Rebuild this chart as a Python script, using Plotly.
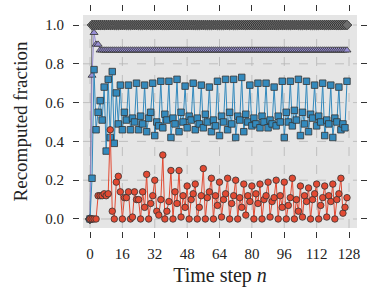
import plotly.graph_objects as go

steps = list(range(128))

gray_vals = [0.0] + [1.0] * 127

purple_vals = [0.0, 0.74, 0.96, 0.90, 0.90] + [0.87] * 123

blue_vals = [
    0.00, 0.21, 0.77, 0.46, 0.55, 0.61, 0.51, 0.68, 0.35, 0.72, 0.42, 0.76,
    0.39, 0.65, 0.49, 0.69, 0.46, 0.55, 0.51, 0.69, 0.46, 0.52, 0.50, 0.70,
    0.46, 0.53, 0.49, 0.69, 0.45, 0.52, 0.55, 0.70, 0.43, 0.50, 0.48, 0.71,
    0.47, 0.54, 0.51, 0.71, 0.42, 0.52, 0.49, 0.72, 0.45, 0.55, 0.50, 0.685,
    0.47, 0.53, 0.51, 0.70, 0.46, 0.52, 0.49, 0.69, 0.47, 0.54, 0.50, 0.68,
    0.45, 0.51, 0.48, 0.71, 0.43, 0.53, 0.50, 0.72, 0.46, 0.55, 0.49, 0.72,
    0.42, 0.53, 0.51, 0.73, 0.45, 0.54, 0.50, 0.69, 0.48, 0.52, 0.49, 0.70,
    0.47, 0.53, 0.50, 0.70, 0.47, 0.51, 0.49, 0.68, 0.48, 0.53, 0.50, 0.71,
    0.42, 0.55, 0.50, 0.71, 0.48, 0.56, 0.51, 0.72, 0.43, 0.55, 0.49, 0.71,
    0.45, 0.54, 0.52, 0.69, 0.48, 0.53, 0.50, 0.70, 0.43, 0.51, 0.49, 0.69,
    0.42, 0.52, 0.50, 0.68, 0.46, 0.49, 0.47, 0.71,
]

red_vals = [
    0.00, 0.00, 0.00, 0.00, 0.12, 0.12, 0.12, 0.13, 0.12, 0.13, 0.46, 0.04,
    0.00, 0.19, 0.22, 0.14, 0.00, 0.11, 0.11, 0.14, 0.00, 0.01, 0.14, 0.10,
    0.10, 0.00, 0.14, 0.06, 0.23, 0.00, 0.08, 0.12, 0.20, 0.04, 0.02, 0.10,
    0.33, 0.00, 0.04, 0.09, 0.25, 0.00, 0.14, 0.08, 0.25, 0.01, 0.12, 0.06,
    0.17, 0.00, 0.10, 0.13, 0.18, 0.00, 0.06, 0.12, 0.26, 0.00, 0.11, 0.14,
    0.21, 0.00, 0.12, 0.07, 0.19, 0.01, 0.10, 0.13, 0.21, 0.00, 0.08, 0.12,
    0.20, 0.00, 0.11, 0.06, 0.18, 0.02, 0.12, 0.09, 0.17, 0.00, 0.13, 0.08,
    0.18, 0.00, 0.10, 0.12, 0.19, 0.01, 0.09, 0.11, 0.20, 0.00, 0.12, 0.06,
    0.19, 0.00, 0.07, 0.11, 0.21, 0.00, 0.10, 0.04, 0.17, 0.01, 0.12, 0.09,
    0.16, 0.00, 0.10, 0.13, 0.18, 0.00, 0.07, 0.11, 0.17, 0.01, 0.12, 0.09,
    0.18, 0.00, 0.10, 0.13, 0.21, 0.03, 0.06, 0.11,
]

x_ticks = [0, 16, 32, 48, 64, 80, 96, 112, 128]
y_ticks = [0.0, 0.2, 0.4, 0.6, 0.8, 1.0]

# axes limits (inner gray panel) and outer axis ranges (ticks are offset outward)
x_lim = [-3.46, 131.95]
y_lim = [-0.0464, 1.0515]
x_range = [-4.94, 133.43]
y_range = [-0.0619, 1.0670]

series = [
    (gray_vals, "#6E6E6E", "diamond", 7.5, "#2A2A2A"),
    (purple_vals, "#988ED5", "triangle-up", 7, "#333333"),
    (blue_vals, "#348ABD", "square", 6.5, "#333333"),
    (red_vals, "#E24A33", "circle", 6.5, "#333333"),
]

fig = go.Figure()
for vals, col, sym, sz, edge in series:
    fig.add_trace(go.Scatter(
        x=steps, y=vals, mode="lines+markers",
        line=dict(color=col, width=1),
        marker=dict(symbol=sym, size=sz, color=col,
                    line=dict(color=edge, width=0.8)),
        showlegend=False, cliponaxis=False,
    ))

shapes = [dict(type="rect", xref="x", yref="y", x0=x_lim[0], x1=x_lim[1],
               y0=y_lim[0], y1=y_lim[1], fillcolor="#E5E5E5",
               line=dict(width=0), layer="below")]
for xv in x_ticks:
    shapes.append(dict(type="line", xref="x", yref="y", x0=xv, x1=xv,
                       y0=y_lim[0], y1=y_lim[1],
                       line=dict(color="#B5B5B5", width=0.8, dash="dash"),
                       layer="below"))
for yv in y_ticks:
    shapes.append(dict(type="line", xref="x", yref="y", x0=x_lim[0], x1=x_lim[1],
                       y0=yv, y1=yv,
                       line=dict(color="#B5B5B5", width=0.8, dash="dash"),
                       layer="below"))

font_family = "Liberation Serif"
fig.update_layout(
    width=380, height=305,
    margin=dict(l=80, r=20, t=12, b=74),
    paper_bgcolor="white", plot_bgcolor="white",
    font=dict(family=font_family, color="#222222", size=14),
    shapes=shapes,
)
fig.update_xaxes(
    range=x_range, tickvals=x_ticks, ticktext=[str(v) for v in x_ticks],
    ticks="outside", ticklen=6, tickwidth=1, tickcolor="#333333", mirror="ticks",
    showline=False, zeroline=False, showgrid=False, ticklabelstandoff=3,
    title=dict(text="Time step <i>n</i>", font=dict(size=20), standoff=6),
    tickfont=dict(size=15),
)
fig.update_yaxes(
    range=y_range, tickvals=y_ticks, ticktext=[f"{v:.1f}" for v in y_ticks],
    ticks="outside", ticklen=6, tickwidth=1, tickcolor="#333333", mirror="ticks",
    showline=False, zeroline=False, showgrid=False, ticklabelstandoff=6,
    title=dict(text="Recomputed fraction", font=dict(size=19), standoff=12),
    tickfont=dict(size=15),
)

fig.write_html("out.html")
